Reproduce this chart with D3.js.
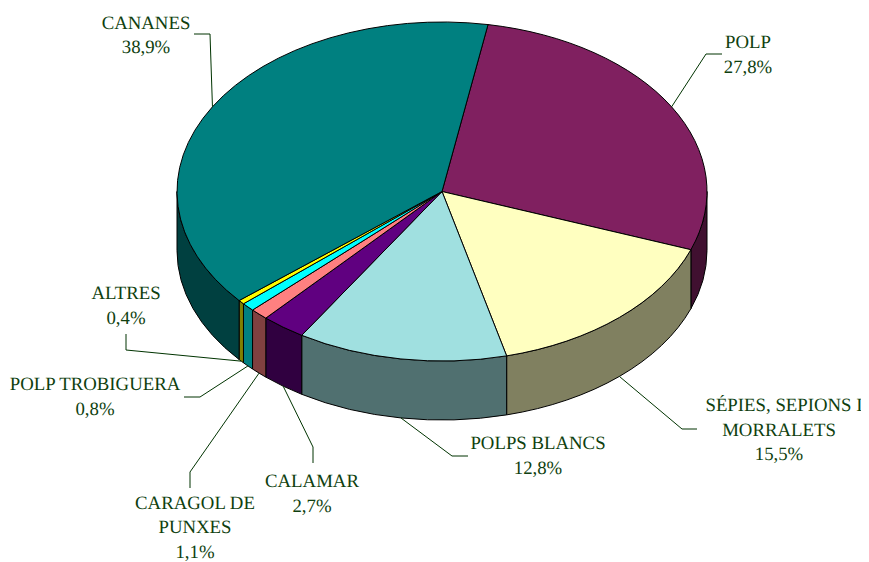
<!DOCTYPE html>
<html>
<head>
<meta charset="utf-8">
<script src="https://cdn.jsdelivr.net/npm/d3@7"></script>
<style>
    html, body { margin: 0; padding: 0; background: #fff; }
    svg { display: block; }
    text { font-family: "Liberation Serif", serif; font-size: 18.8px; fill: #0f3f0f; text-anchor: middle; text-rendering: geometricPrecision; }
</style>
</head>
<body>
<svg id="chart" width="869" height="562"></svg>
<script>
// slices, clockwise from the top of the pie
const categories = ['POLP', 'SÉPIES, SEPIONS I MORRALETS', 'POLPS BLANCS', 'CALAMAR', 'CARAGOL DE PUNXES', 'POLP TROBIGUERA', 'ALTRES', 'CANANES'];
const values = [27.8, 15.5, 12.8, 2.7, 1.1, 0.8, 0.4, 38.9];
const labelLines = [['POLP'], ['SÉPIES, SEPIONS I', 'MORRALETS'], ['POLPS BLANCS'], ['CALAMAR'], ['CARAGOL DE', 'PUNXES'], ['POLP TROBIGUERA'], ['ALTRES'], ['CANANES']];

// colors for each slice, top face and wall
const topColors = ['#802060', '#FFFFC0', '#A0E0E0', '#600080', '#FF8080', '#00FFFF', '#FFFF00', '#008080'];
const sideColors = ['#401030', '#808060', '#507070', '#300040', '#804040', '#008080', '#808000', '#004040'];

// hand placed labels: text centre, first baseline, leader elbow and leader end
const labelLayout = [
    { x: 748, y: 48, elbow: [706, 54], end: [722, 54] },
    { x: 779, y: 411, firstDx: 5, elbow: [682, 429], end: [697, 429] },
    { x: 538, y: 449, elbow: [452, 456], end: [468, 456] },
    { x: 312, y: 487, elbow: [313, 447], end: [313, 463] },
    { x: 195, y: 508.5, elbow: [190, 472], end: [190, 488] },
    { x: 95, y: 390, elbow: [200, 397], end: [184, 397] },
    { x: 126, y: 299, elbow: [126, 350], end: [126, 334] },
    { x: 146, y: 28.5, elbow: [210, 34], end: [194, 34] }
];

const cx = 442, cy = 191.5, rx = 265, ry = 169.5, depth = 59;
const startDeg = 10;
const lineHeight = 24.6;
const rad = Math.PI / 180;

const svg = d3.select('#chart');
const comma = d3.formatLocale({ decimal: ',', thousands: '.', grouping: [3], currency: ['', ''] }).format('.1f');

// labels are cut off at the edge of the chart area
svg.append('clipPath').attr('id', 'area')
    .append('rect').attr('width', 861).attr('height', 562);

const arcs = d3.pie().sort(null)
    .startAngle(startDeg * rad)
    .endAngle((startDeg + 360) * rad)(values);

// point on the rim for an angle measured clockwise from the top
const rim = (a, drop) => [cx + rx * Math.sin(a), cy - ry * Math.cos(a) + drop];

function wallPath(a0, a1) {
    const t0 = rim(a0, 0), t1 = rim(a1, 0), b0 = rim(a0, depth), b1 = rim(a1, depth);
    return `M${t0}A${rx},${ry} 0 0 1 ${t1}L${b1}A${rx},${ry} 0 0 0 ${b0}Z`;
}

// only the front half of the rim shows a wall
const walls = svg.append('g');
arcs.forEach((d, i) => {
    const a0 = Math.max(d.startAngle, Math.PI / 2);
    const a1 = Math.min(d.endAngle, Math.PI * 1.5);
    if (a1 <= a0) return;
    walls.append('path')
        .attr('d', wallPath(a0, a1))
        .attr('fill', sideColors[i])
        .attr('stroke', '#000')
        .attr('stroke-width', 1);
});

// top faces, a round pie squashed into an ellipse
const arc = d3.arc().innerRadius(0).outerRadius(rx);
svg.append('g')
    .attr('transform', `translate(${cx},${cy}) scale(1,${ry / rx})`)
    .selectAll('path')
    .data(arcs)
    .enter().append('path')
    .attr('d', arc)
    .attr('fill', (d, i) => topColors[i])
    .attr('stroke', '#000')
    .attr('stroke-width', 1)
    .attr('vector-effect', 'non-scaling-stroke');

// leader lines start at the middle of each slice's outer edge
const leaders = svg.append('g');
arcs.forEach((d, i) => {
    const mid = (d.startAngle + d.endAngle) / 2;
    const front = mid > Math.PI / 2 && mid < Math.PI * 1.5;
    const start = rim(mid, front ? depth : 0);
    leaders.append('path')
        .attr('d', d3.line()([start, labelLayout[i].elbow, labelLayout[i].end]))
        .attr('fill', 'none')
        .attr('stroke', '#003300')
        .attr('stroke-width', 1);
});

const labels = svg.append('g').attr('clip-path', 'url(#area)');
categories.forEach((name, i) => {
    const lines = labelLines[i].concat(comma(values[i]) + '%');
    const text = labels.append('text').attr('aria-label', name);
    lines.forEach((line, j) => {
        text.append('tspan')
            .attr('x', labelLayout[i].x + (j === 0 && labelLayout[i].firstDx || 0))
            .attr('y', labelLayout[i].y + j * lineHeight)
            .text(line);
    });
});
</script>
</body>
</html>
